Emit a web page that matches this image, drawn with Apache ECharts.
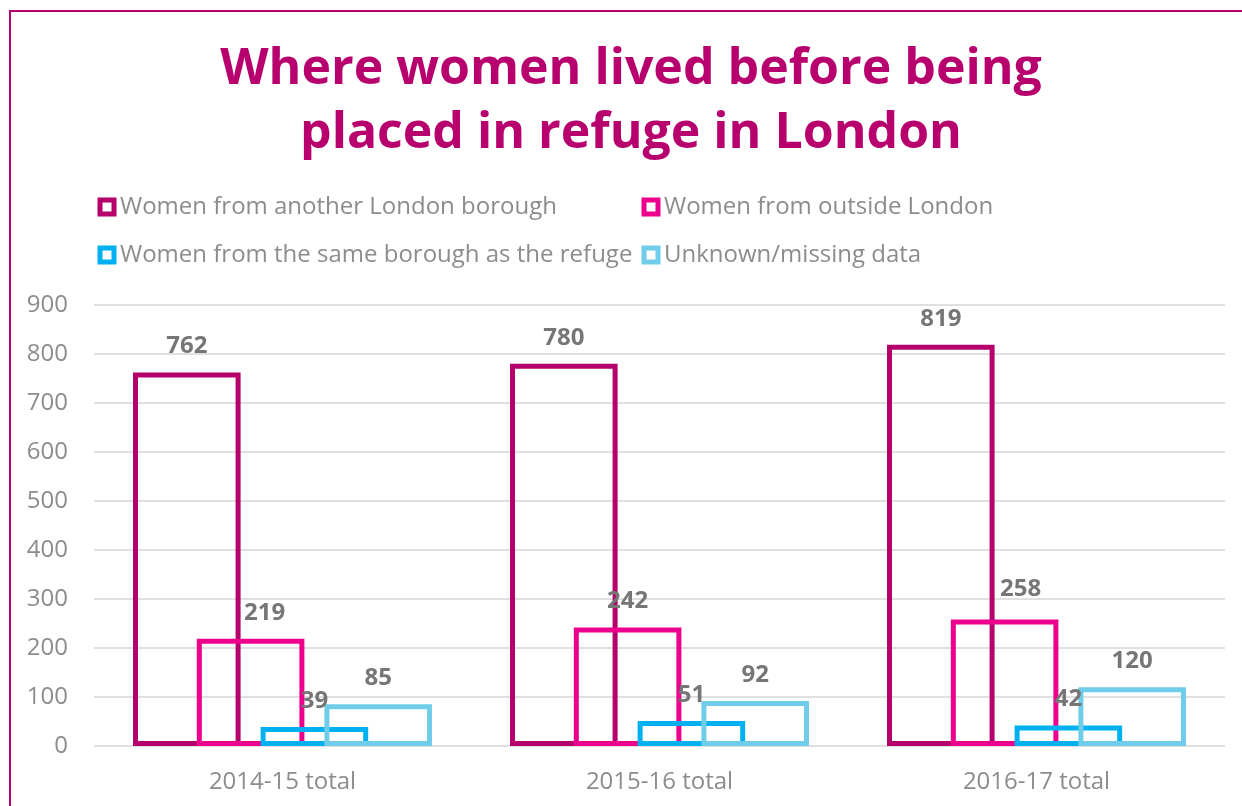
<!DOCTYPE html>
<html>
<head>
<meta charset="utf-8">
<script src="https://cdn.jsdelivr.net/npm/echarts@6/dist/echarts.min.js"></script>
<style>
  html, body { margin: 0; padding: 0; background: #fff; overflow: hidden; }
  #frame { position: absolute; left: 9px; top: 10px; width: 1300px; height: 900px; border: 2px solid #b7006e; }
  #chart { position: absolute; left: 0; top: 0; width: 1242px; height: 806px; }
</style>
</head>
<body>
<div id="frame"></div>
<div id="chart"></div>
<script>
  // data
  const categories = ['2014-15 total', '2015-16 total', '2016-17 total'];
  const seriesNames = [
    'Women from another London borough',
    'Women from outside London',
    'Women from the same borough as the refuge',
    'Unknown/missing data'
  ];
  const anotherBorough = [762, 780, 819];
  const outsideLondon = [219, 242, 258];
  const sameBorough = [39, 51, 42];
  const unknownMissing = [85, 92, 120];
  const yTicks = [0, 100, 200, 300, 400, 500, 600, 700, 800, 900];

  const colors = ['#b5006b', '#ec008c', '#00b0f0', '#6fcdea'];
  const values = [anotherBorough, outsideLondon, sameBorough, unknownMissing];

  // a couple of labels were nudged in the original
  const labelOffsets = { '1-0': [14, 0], '1-2': [16, -4] };

  const series = values.map((vals, i) => ({
    name: seriesNames[i],
    type: 'bar',
    barGap: '-40.7%',
    barCategoryGap: '20.7%',
    data: vals.map((v, j) => {
      const off = labelOffsets[i + '-' + j];
      return off ? { value: v, label: { offset: off } } : v;
    }),
    itemStyle: {
      color: 'rgba(0,0,0,0)',
      borderColor: colors[i],
      borderWidth: 5
    },
    label: {
      show: true,
      position: 'top',
      distance: 14,
      color: '#767676',
      fontFamily: 'Open Sans',
      fontWeight: 'bold',
      fontSize: 24
    }
  }));

  const chart = echarts.init(document.getElementById('chart'));
  const legendBase = {
    orient: 'vertical',
    top: 195,
    itemGap: 24,
    itemWidth: 14,
    itemHeight: 14,
    icon: 'rect',
    padding: 0,
    itemStyle: { borderWidth: 5, color: '#fff' },
    textStyle: { color: '#8c8c8c', fontFamily: 'Open Sans', fontSize: 24, padding: [0, 0, 0, 1] },
    selectedMode: false
  };
  const option = {
    animation: false,
    title: {
      text: 'Where women lived before being\nplaced in refuge in London',
      left: 631,
      top: 38,
      padding: 0,
      textAlign: 'center',
      textStyle: {
        color: '#b7006e',
        fontFamily: 'Open Sans',
        fontWeight: 'bold',
        fontSize: 50,
        lineHeight: 64
      }
    },
    legend: [
      Object.assign({}, legendBase, { left: 97.5, data: [seriesNames[0], seriesNames[2]] }),
      Object.assign({}, legendBase, { left: 641.5, data: [seriesNames[1], seriesNames[3]] })
    ],
    grid: { left: 94, right: 17, top: 305, bottom: 60 },
    xAxis: {
      type: 'category',
      data: categories,
      axisLine: { show: false },
      axisTick: { show: false },
      axisLabel: { color: '#8c8c8c', fontFamily: 'Open Sans', fontSize: 24, margin: 24 }
    },
    yAxis: {
      type: 'value',
      min: yTicks[0],
      max: yTicks[yTicks.length - 1],
      interval: 100,
      axisLabel: { color: '#8c8c8c', fontFamily: 'Open Sans', fontSize: 24, margin: 26 },
      splitLine: { lineStyle: { color: '#e0e0e0', width: 2 } }
    },
    series
  };
  chart.setOption(option);
</script>
</body>
</html>
